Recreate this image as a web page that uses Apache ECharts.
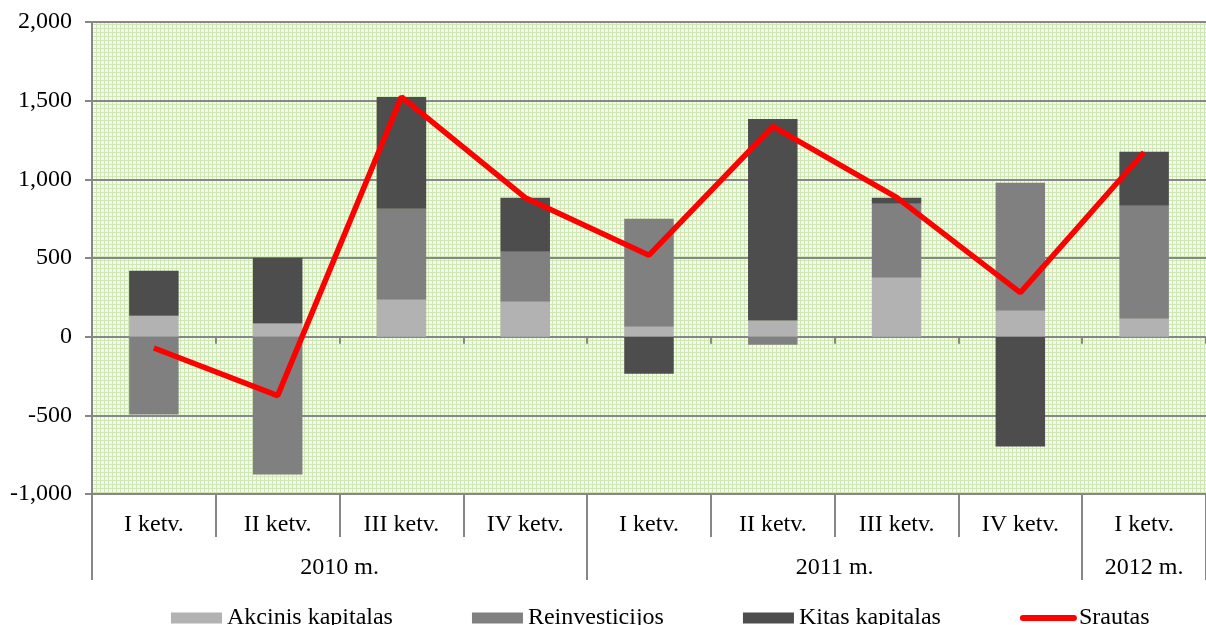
<!DOCTYPE html>
<html>
<head>
<meta charset="utf-8">
<script src="https://cdn.jsdelivr.net/npm/echarts@6/dist/echarts.min.js"></script>
<style>
html, body { margin: 0; padding: 0; background: #fff; }
#chart { width: 1206px; height: 625px; }
</style>
</head>
<body>
<div id="chart"></div>
<script>
var quarters = ['I ketv.', 'II ketv.', 'III ketv.', 'IV ketv.', 'I ketv.', 'II ketv.', 'III ketv.', 'IV ketv.', 'I ketv.'];
var years = ['2010 m.', '2011 m.', '2012 m.'];
var yearSpans = [4, 4, 1];

var akcinis = [133, 83, 235, 222, 63, 102, 375, 165, 114];
var reinvesticijos = [-495, -876, 578, 318, 686, -51, 470, 813, 718];
var kitas = [286, 419, 711, 343, -235, 1282, 38, -698, 343];
var srautas = [-72, -375, 1524, 883, 518, 1336, 885, 280, 1172];

// year boundaries and centres on a 0..9 value axis
var yearEdges = [0], yearMids = [];
var acc = 0;
for (var i = 0; i < yearSpans.length; i++) {
  yearMids.push(acc + yearSpans[i] / 2);
  acc += yearSpans[i];
  yearEdges.push(acc);
}

// light green grid pattern for plot background
var tile = document.createElement('canvas');
tile.width = 4; tile.height = 4;
var ctx = tile.getContext('2d');
ctx.fillStyle = '#f3f9ec';
ctx.fillRect(0, 0, 4, 4);
ctx.fillStyle = '#cfe7b4';
ctx.fillRect(0, 0, 4, 1);
ctx.fillRect(0, 0, 1, 4);

var font = '"Liberation Serif", "Times New Roman", serif';
var axisGray = '#878787';
var gridBox = {left: 92, right: -11, top: 22, bottom: 131};

var chart = echarts.init(document.getElementById('chart'), null, {renderer: 'canvas'});

chart.setOption({
  animation: false,
  textStyle: {fontFamily: font, color: '#000'},
  grid: [
    Object.assign({show: true, borderWidth: 0, backgroundColor: {image: tile, repeat: 'repeat'}}, gridBox),
    Object.assign({show: false}, gridBox)
  ],
  legend: {
    left: 171, top: 606, padding: 0,
    itemWidth: 51, itemHeight: 11, itemGap: 79,
    textStyle: {fontFamily: font, fontSize: 24, color: '#000'},
    data: [
      {name: 'Akcinis kapitalas', icon: 'rect'},
      {name: 'Reinvesticijos', icon: 'rect'},
      {name: 'Kitas kapitalas', icon: 'rect'},
      {name: 'Srautas', itemStyle: {opacity: 0}, lineStyle: {width: 6, cap: 'round'}}
    ]
  },
  xAxis: [
    {
      // quarter labels under the plot
      gridIndex: 0, type: 'category', data: quarters, position: 'bottom',
      axisLine: {onZero: false, lineStyle: {color: axisGray, width: 2}},
      axisTick: {show: true, interval: 0, length: 43, lineStyle: {color: axisGray, width: 2}},
      axisLabel: {interval: 0, margin: 19, fontSize: 24, fontFamily: font, color: '#000'},
      splitLine: {show: false}
    },
    {
      // small ticks along the zero line
      gridIndex: 0, type: 'category', data: quarters, position: 'top',
      axisLine: {show: true, onZero: true, lineStyle: {color: axisGray, width: 2}},
      axisTick: {show: true, inside: true, interval: 0, length: 7, lineStyle: {color: axisGray, width: 2}},
      axisLabel: {show: false},
      splitLine: {show: false}
    },
    {
      // year labels
      gridIndex: 1, type: 'value', min: 0, max: 9, position: 'bottom',
      axisLine: {show: false, onZero: false},
      splitLine: {show: false},
      axisTick: {show: true, length: 86, customValues: yearEdges, lineStyle: {color: axisGray, width: 2}},
      axisLabel: {
        margin: 62, fontSize: 24, fontFamily: font, color: '#000',
        customValues: yearMids,
        formatter: function (v) {
          var idx = yearMids.indexOf(v);
          return idx >= 0 ? years[idx] : '';
        }
      }
    }
  ],
  yAxis: [
    {
      gridIndex: 0, type: 'value', min: -1000, max: 2000, interval: 500,
      axisLine: {show: true, lineStyle: {color: axisGray, width: 2}},
      axisTick: {show: true, length: 7, lineStyle: {color: axisGray, width: 2}},
      axisLabel: {
        margin: 20, fontSize: 24, fontFamily: font, color: '#000',
        formatter: function (v) { return v.toLocaleString('en-US'); }
      },
      splitLine: {show: true, lineStyle: {color: axisGray, width: 2}}
    },
    {
      gridIndex: 1, type: 'value', min: 0, max: 1, show: false
    }
  ],
  series: [
    {
      name: 'Akcinis kapitalas', type: 'bar', stack: 'total', data: akcinis,
      barWidth: '40%', itemStyle: {color: '#b2b2b2'}
    },
    {
      name: 'Reinvesticijos', type: 'bar', stack: 'total', data: reinvesticijos,
      barWidth: '40%', itemStyle: {color: '#808080'}
    },
    {
      name: 'Kitas kapitalas', type: 'bar', stack: 'total', data: kitas,
      barWidth: '40%', itemStyle: {color: '#4d4d4d'}
    },
    {
      name: 'Srautas', type: 'line', data: srautas, symbol: 'none',
      lineStyle: {color: '#ff0000', width: 5.5}, itemStyle: {color: '#ff0000'}
    }
  ]
});
</script>
</body>
</html>
